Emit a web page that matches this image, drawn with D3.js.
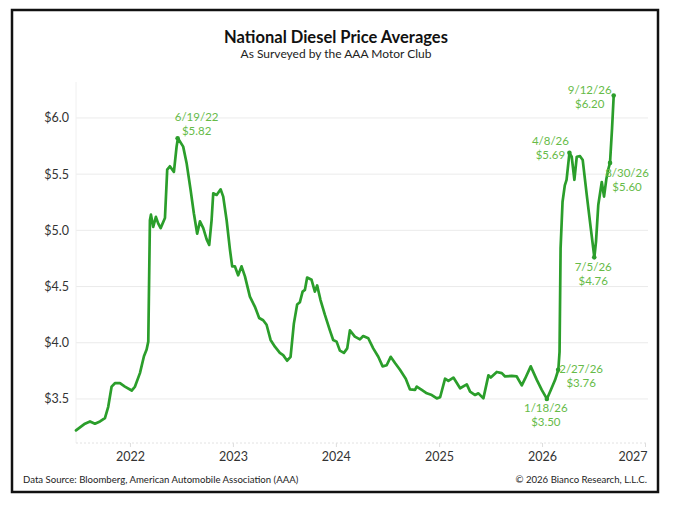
<!DOCTYPE html>
<html>
<head>
<meta charset="utf-8">
<script src="https://cdn.jsdelivr.net/npm/d3@7"></script>
<style>
  body { margin: 0; background: #fff; }
  text { font-family: Lato, "Open Sans", sans-serif; }
</style>
</head>
<body>
<script>
// weekly-ish readings, decimal year -> $/gal
const yearFrac = [
  2021.476, 2021.563, 2021.612, 2021.660, 2021.709, 2021.757, 2021.789, 2021.822, 2021.854, 2021.903,
  2021.951, 2022.017, 2022.049, 2022.097, 2022.136, 2022.162, 2022.178, 2022.194, 2022.204, 2022.226,
  2022.252, 2022.275, 2022.298, 2022.340, 2022.362, 2022.388, 2022.427, 2022.453, 2022.466, 2022.517,
  2022.550, 2022.589, 2022.621, 2022.653, 2022.680, 2022.712, 2022.745, 2022.770, 2022.793, 2022.809,
  2022.842, 2022.881, 2022.906, 2022.939, 2022.971, 2022.993, 2023.019, 2023.051, 2023.084, 2023.117,
  2023.165, 2023.214, 2023.255, 2023.294, 2023.327, 2023.366, 2023.408, 2023.456, 2023.488, 2023.527,
  2023.560, 2023.592, 2023.624, 2023.650, 2023.677, 2023.699, 2023.721, 2023.764, 2023.796, 2023.818,
  2023.851, 2023.893, 2023.942, 2023.974, 2024.007, 2024.039, 2024.078, 2024.110, 2024.136, 2024.184,
  2024.233, 2024.265, 2024.314, 2024.362, 2024.411, 2024.453, 2024.492, 2024.531, 2024.573, 2024.621,
  2024.677, 2024.718, 2024.767, 2024.783, 2024.832, 2024.881, 2024.929, 2024.978, 2025.010, 2025.058,
  2025.090, 2025.139, 2025.204, 2025.269, 2025.301, 2025.350, 2025.382, 2025.430, 2025.479, 2025.502,
  2025.560, 2025.609, 2025.641, 2025.706, 2025.754, 2025.803, 2025.835, 2025.890, 2025.949, 2025.997,
  2026.047, 2026.085, 2026.127, 2026.158, 2026.170, 2026.180, 2026.199, 2026.221, 2026.238, 2026.266,
  2026.288, 2026.314, 2026.337, 2026.369, 2026.395, 2026.434, 2026.473, 2026.508, 2026.524, 2026.546,
  2026.580, 2026.602, 2026.625, 2026.645, 2026.660, 2026.680, 2026.696
];
const price = [
  3.22, 3.28, 3.30, 3.28, 3.30, 3.33, 3.43, 3.61, 3.64, 3.64,
  3.61, 3.575, 3.61, 3.73, 3.88, 3.94, 4.01, 5.09, 5.14, 5.03,
  5.12, 5.06, 5.02, 5.11, 5.54, 5.57, 5.52, 5.745, 5.82, 5.745,
  5.60, 5.36, 5.15, 4.97, 5.08, 5.02, 4.92, 4.87, 5.09, 5.33,
  5.315, 5.365, 5.30, 5.09, 4.83, 4.68, 4.68, 4.60, 4.68, 4.59,
  4.41, 4.32, 4.22, 4.20, 4.16, 4.025, 3.965, 3.91, 3.89, 3.84,
  3.875, 4.17, 4.34, 4.36, 4.455, 4.47, 4.58, 4.56, 4.455, 4.51,
  4.38, 4.25, 4.11, 4.025, 4.01, 3.93, 3.91, 3.95, 4.11, 4.055,
  4.03, 4.06, 4.04, 3.95, 3.875, 3.79, 3.80, 3.875, 3.82, 3.76,
  3.68, 3.585, 3.58, 3.61, 3.58, 3.55, 3.535, 3.505, 3.515, 3.68,
  3.66, 3.69, 3.595, 3.63, 3.565, 3.535, 3.55, 3.505, 3.71, 3.69,
  3.74, 3.73, 3.70, 3.705, 3.70, 3.62, 3.68, 3.79, 3.67, 3.58,
  3.50, 3.58, 3.67, 3.76, 3.92, 4.84, 5.255, 5.40, 5.45, 5.69,
  5.655, 5.45, 5.655, 5.66, 5.625, 5.315, 5.02, 4.76, 4.90, 5.225,
  5.43, 5.30, 5.46, 5.55, 5.60, 5.91, 6.20
];

const yTicks = [3.5, 4.0, 4.5, 5.0, 5.5, 6.0];
const xTickYears = [2022, 2023, 2024, 2025, 2026, 2027];

const annDates = ["6/19/22", "4/8/26", "9/12/26", "8/30/26", "7/5/26", "2/27/26", "1/18/26"];
const annValues = [5.82, 5.69, 6.20, 5.60, 4.76, 3.76, 3.50];
// label offsets from the point (dx, dy of first line baseline)
const annOffsets = [[19, -17], [-19, -8], [-24, -1], [17, 14], [-1, 14], [23, 3], [-1, 13]];

const W = 680, H = 505;
const pLeft = 76, pRight = 648, pTop = 82, pBottom = 443;
const lineColor = "#2b9e2b", textGreen = "#66bb48";

function fracToDate(f) {
  const yr = Math.floor(f);
  const s = Date.UTC(yr, 0, 1), e = Date.UTC(yr + 1, 0, 1);
  return new Date(s + (f - yr) * (e - s));
}

const data = yearFrac.map((f, i) => ({ date: fracToDate(f), value: price[i] }));

const x = d3.scaleUtc()
  .domain([fracToDate(2021.476), fracToDate(2027.029)])
  .range([pLeft, pRight]);
const y = d3.scaleLinear()
  .domain([3.108, 6.32])
  .range([pBottom, pTop]);

const svg = d3.select("body").append("svg")
  .attr("width", W)
  .attr("height", H);

svg.append("rect").attr("width", W).attr("height", H).attr("fill", "#fff");
svg.append("rect")
  .attr("x", 12).attr("y", 10)
  .attr("width", 646).attr("height", 482)
  .attr("fill", "none")
  .attr("stroke", "#111")
  .attr("stroke-width", 2.5);

// titles
svg.append("text")
  .attr("x", 336).attr("y", 43)
  .attr("text-anchor", "middle")
  .attr("font-size", 16.5)
  .attr("font-weight", "bold")
  .attr("fill", "#111")
  .text("National Diesel Price Averages");
svg.append("text")
  .attr("x", 336).attr("y", 58)
  .attr("text-anchor", "middle")
  .attr("font-size", 12)
  .attr("fill", "#222")
  .text("As Surveyed by the AAA Motor Club");

// grid
svg.append("g")
  .selectAll("line")
  .data(yTicks)
  .enter()
  .append("line")
    .attr("x1", pLeft).attr("x2", pRight)
    .attr("y1", d => y(d)).attr("y2", d => y(d))
    .attr("stroke", "#ebebeb");
svg.append("line")
  .attr("x1", pLeft).attr("x2", pLeft)
  .attr("y1", pTop).attr("y2", pBottom)
  .attr("stroke", "#f0f0f0");

// y labels
svg.append("g")
  .selectAll("text")
  .data(yTicks)
  .enter()
  .append("text")
    .attr("x", pLeft - 7)
    .attr("y", d => y(d))
    .attr("dy", "0.35em")
    .attr("text-anchor", "end")
    .attr("font-size", 12.5)
    .attr("fill", "#333")
    .text(d => "$" + d.toFixed(1));

// x axis
const xAxis = d3.axisBottom(x)
  .tickValues(xTickYears.map(v => fracToDate(v)))
  .tickSize(4)
  .tickPadding(5)
  .tickFormat(d3.utcFormat("%Y"));
const gx = svg.append("g")
  .attr("transform", `translate(0,${pBottom})`)
  .call(xAxis);
gx.select(".domain").remove();
gx.selectAll(".tick line").attr("stroke", "#ddd");
gx.selectAll(".tick text")
  .attr("font-family", "Lato, sans-serif")
  .attr("font-size", 12.5)
  .attr("fill", "#333");
gx.selectAll(".tick text").filter((d, i) => i === xTickYears.length - 1)
  .attr("text-anchor", "end")
  .attr("dx", 2);
svg.append("line")
  .attr("x1", pLeft).attr("x2", pRight)
  .attr("y1", pBottom).attr("y2", pBottom)
  .attr("stroke", "#e2e2e2")
  .attr("stroke-dasharray", "2,2");

// the series
const line = d3.line()
  .x(d => x(d.date))
  .y(d => y(d.value));
svg.append("path")
  .datum(data)
  .attr("d", line)
  .attr("fill", "none")
  .attr("stroke", lineColor)
  .attr("stroke-width", 2.7)
  .attr("stroke-linejoin", "round")
  .attr("stroke-linecap", "round");

// annotations
const parseAnn = d3.utcParse("%m/%d/%y");
annDates.forEach((lab, i) => {
  const px = x(parseAnn(lab)), py = y(annValues[i]);
  const tx = px + annOffsets[i][0], ty = py + annOffsets[i][1];
  svg.append("circle")
    .attr("cx", px).attr("cy", py).attr("r", 2.3)
    .attr("fill", lineColor);
  svg.append("text")
    .attr("x", tx).attr("y", ty)
    .attr("text-anchor", "middle")
    .attr("font-size", 11.5)
    .attr("fill", textGreen)
    .text(lab);
  svg.append("text")
    .attr("x", tx).attr("y", ty + 13.9)
    .attr("text-anchor", "middle")
    .attr("font-size", 11.5)
    .attr("fill", textGreen)
    .text("$" + annValues[i].toFixed(2));
});

// footer
svg.append("text")
  .attr("x", 23).attr("y", 483)
  .attr("font-size", 9.6)
  .attr("fill", "#222")
  .text("Data Source: Bloomberg, American Automobile Association (AAA)");
svg.append("text")
  .attr("x", 647).attr("y", 483)
  .attr("text-anchor", "end")
  .attr("font-size", 9.6)
  .attr("fill", "#222")
  .text("\u00a9 2026 Bianco Research, L.L.C.");
</script>
</body>
</html>
